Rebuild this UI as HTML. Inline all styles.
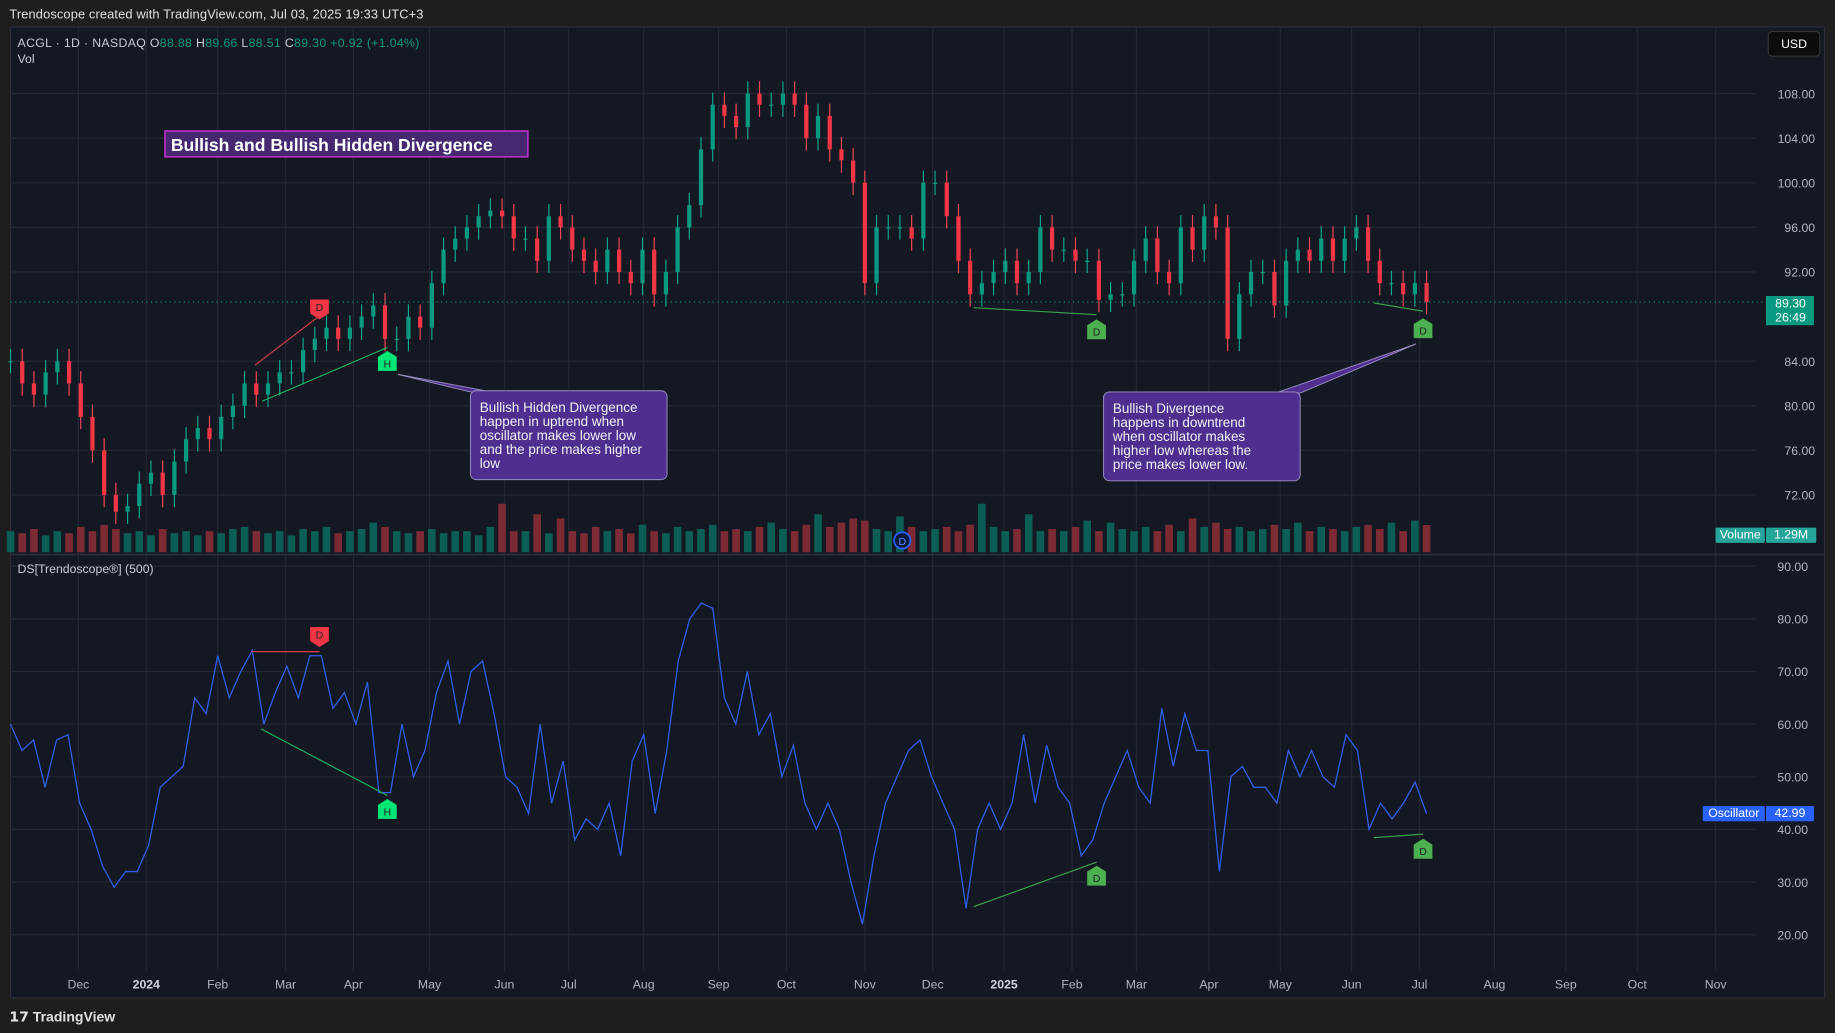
<!DOCTYPE html>
<html><head><meta charset="utf-8">
<style>
html,body{margin:0;padding:0;background:#1e1e1e;}
svg{display:block;font-family:"Liberation Sans",sans-serif;}
</style></head>
<body>
<svg id="chart" width="1835" height="1033" viewBox="0 0 1568 883" preserveAspectRatio="none" xmlns="http://www.w3.org/2000/svg">
<rect x="0" y="0" width="1568" height="883" fill="#1e1e1e"/>
<text x="8" y="16" fill="#e0e0e0" font-size="11" letter-spacing="0.1">Trendoscope created with TradingView.com, Jul 03, 2025 19:33 UTC+3</text>
<rect x="9" y="23" width="1550" height="830" fill="#141823" stroke="#2a2e39"/>
<g id="grid"></g>
<line x1="9" y1="474" x2="1559" y2="474" stroke="#2a2e39" stroke-width="1.5"/>
<g id="vol"></g>
<g id="candles"></g>
<g id="osc"></g>
<g id="axes"></g>
<g id="ann"></g>
<text x="15" y="40" font-size="10.5" fill="#c8ccd6" letter-spacing="0.3">ACGL · 1D · NASDAQ  O<tspan fill="#089981">88.88</tspan>  H<tspan fill="#089981">89.66</tspan>  L<tspan fill="#089981">88.51</tspan>  C<tspan fill="#089981">89.30</tspan>  <tspan fill="#089981">+0.92 (+1.04%)</tspan></text>
<text x="15" y="54" font-size="10.5" fill="#c8ccd6">Vol</text>
<text x="15" y="490" font-size="10.5" fill="#c8ccd6">DS[Trendoscope®] (500)</text>
<rect x="1511" y="27" width="44" height="21" rx="3" fill="#0c0c0c" stroke="#333"/>
<text x="1533" y="41" font-size="10.5" fill="#fff" text-anchor="middle">USD</text>
<text x="8" y="873" font-size="12" fill="#e0e0e0" font-weight="bold">𝟭𝟳 TradingView</text>
</svg>
<script>
const months=["Dec","2024","Feb","Mar","Apr","May","Jun","Jul","Aug","Sep","Oct","Nov","Dec","2025","Feb","Mar","Apr","May","Jun","Jul","Aug","Sep","Oct","Nov"];
const monthX=[67,125,186,244,302,367,431,486,550,614,672,739,797,858,916,971,1033,1094,1155,1213,1277,1338,1399,1466];
const priceTicks=[108,104,100,96,92,84,80,76,72];
const oscTicks=[90,80,70,60,50,40,30,20];
const closes=[84,82,81,83,84,82,79,76,72,70.5,71,73,74,72,75,77,78,77,79,80,82,81,82,83,83,85,86,87,86,87,88,89,86,86,88,87,91,94,95,96,97,97.5,97,95,95,93,97,96,94,93,92,94,92,91,94,90,92,96,98,103,107,106,105,108,107,107,108,107,104,106,103,102,100,91,96,96,96,95,100,100,97,93,90,91,92,93,91,92,96,94,94,93,93,89.5,90,90,93,95,92,91,96,94,97,96,86,90,92,92,89,93,94,93,95,93,95,96,93,91,91,90,91,89.3];
const volumes=[1.0,0.9,1.1,0.8,1.0,0.9,1.2,1.0,1.3,1.1,0.9,1.0,0.8,1.1,0.9,1.0,0.8,1.0,0.9,1.1,1.2,1.0,0.9,1.0,0.8,1.1,1.0,1.2,0.9,1.0,1.1,1.4,1.2,1.0,0.9,1.0,1.1,0.9,1.0,1.0,0.8,1.2,2.3,1.0,1.0,1.8,0.9,1.6,1.0,0.9,1.2,1.0,1.1,0.9,1.3,1.0,0.9,1.2,1.0,1.1,1.3,1.0,1.1,1.0,1.2,1.4,1.1,1.0,1.3,1.8,1.2,1.4,1.6,1.5,1.1,1.0,1.7,1.2,1.0,1.1,1.2,1.0,1.3,2.3,1.2,1.0,1.1,1.8,1.0,1.1,1.0,1.2,1.5,1.0,1.4,1.1,1.0,1.2,1.0,1.3,1.0,1.6,1.2,1.4,1.1,1.2,1.0,1.1,1.3,1.1,1.4,1.0,1.2,1.1,1.0,1.2,1.3,1.1,1.4,1.0,1.5,1.29];
const osc=[60,55,57,48,57,58,45,40,33,29,32,32,37,48,50,52,65,62,73,65,70,74,60,66,71,65,73,73,63,66,60,68,47,47,60,50,55,66,72,60,70,72,62,50,48,43,60,45,53,38,42,40,45,35,53,58,43,55,72,80,83,82,65,60,70,58,62,50,56,45,40,45,40,30,22,35,45,50,55,57,50,45,40,25,40,45,40,45,58,45,56,48,45,35,38,45,50,55,48,45,63,52,62,55,55,32,50,52,48,48,45,55,50,55,50,48,58,55,40,45,42,45,49,43];

const NS="http://www.w3.org/2000/svg";
function mk(parent,tag,attrs,text){const e=document.createElementNS(NS,tag);for(const k in attrs)e.setAttribute(k,attrs[k]);if(text!==undefined)e.textContent=text;parent.appendChild(e);return e;}
const yP=p=>80+(108-p)*9.53;
const yO=v=>484+(90-v)*4.5;
const xI=(i,n)=>9+i*(1210/(n-1));
const yV=v=>472-v*18;

const grid=document.getElementById('grid'),axes=document.getElementById('axes');
priceTicks.forEach(p=>{
 const l=mk(grid,'line',{x1:9,x2:1500,y1:yP(p),y2:yP(p),stroke:'#232734'});
 
 
 const t=mk(axes,'text',{x:1551,y:yP(p)+4,'font-size':10.5,fill:'#b2b5be','text-anchor':'end'},p.toFixed(2));
 
 
});
oscTicks.forEach(v=>{
 const l=mk(grid,'line',{x1:9,x2:1500,y1:yO(v),y2:yO(v),stroke:'#232734'});
 
 
 const t=mk(axes,'text',{x:1545,y:yO(v)+4,'font-size':10.5,fill:'#b2b5be','text-anchor':'end'},v.toFixed(2));
 
 
});
months.forEach((m,i)=>{
 const l=mk(grid,'line',{x1:monthX[i],x2:monthX[i],y1:23,y2:830,stroke:'#232734'});
 
 
 const t=mk(axes,'text',{x:monthX[i],y:845,'font-size':10.5,fill:(m==='2024'||m==='2025')?'#d1d4dc':'#b2b5be','font-weight':(m==='2024'||m==='2025')?'bold':'normal','text-anchor':'middle'},m);
 
 
});

const vg=document.getElementById('vol'),cg=document.getElementById('candles');
const n=closes.length;
closes.forEach((c,i)=>{
 const o=i>0?closes[i-1]:c;
 const x=xI(i,n),up=c>=o,col=up?'#089981':'#f23645';
 const hi=Math.max(o,c)+1.1,lo=Math.min(o,c)-1.1;
 const vb=mk(vg,'rect',{x:x-3.25,y:yV(volumes[i]),width:6.5,height:472-yV(volumes[i]),fill:up?'#0b5e55':'#7c2a33'});
 
 
 const w=mk(cg,'line',{x1:x,x2:x,y1:yP(hi),y2:yP(lo),stroke:up?'#0aa88d':'#f54555','stroke-width':1});
 
 
 const b=mk(cg,'rect',{x:x-1.8,y:yP(Math.max(o,c)),width:3.6,height:Math.max(1,Math.abs(yP(o)-yP(c))),fill:col});
 
 
});
const og=document.getElementById('osc');
const pl=mk(og,'polyline',{points:osc.map((v,i)=>xI(i,osc.length)+','+yO(v)).join(' '),fill:'none',stroke:'#2f5ee8','stroke-width':1.1});



const ann=document.getElementById('ann');
const cur=mk(ann,'line',{x1:9,x2:1508,y1:yP(89.3),y2:yP(89.3),stroke:'#089981','stroke-dasharray':'1,3'});


function seg(x1,y1,x2,y2,c,name){const l=mk(ann,'line',{x1,y1,x2,y2,stroke:c,'stroke-width':1});}
seg(218,312,273,270,'#c33a48','price-divergence-line');
seg(224,343,331,297,'#20b060','price-hidden-divergence-line');
seg(832,263,937,269,'#3aa34a','price-divergence-line');
seg(1174,259,1216,266,'#3aa34a','price-divergence-line');
seg(215,557,273,557,'#e23a4a','osc-divergence-line');
seg(223,623,331,680,'#20b060','osc-hidden-divergence-line');
seg(832,775,937,737,'#3aa34a','osc-divergence-line');
seg(1174,716,1216,713,'#3aa34a','osc-divergence-line');
function tag(x,y,letter,col,down,name){
 const g=mk(ann,'g',{});
 
 
 const d=down?`M${x-8},${y-8} h16 v12 l-8,5 l-8,-5 z`:`M${x-8},${y+8} h16 v-12 l-8,-5 l-8,5 z`;
 mk(g,'path',{d,fill:col});
 mk(g,'text',{x,y:down?y+2:y+5,'font-size':9,fill:'#222','text-anchor':'middle'},letter);
}
tag(273,264,'D','#f23645',true,'price-divergence-tag');
tag(331,309,'H','#00e676',false,'price-hidden-tag');
tag(937,282,'D','#4caf50',false,'price-divergence-tag');
tag(1216,281,'D','#4caf50',false,'price-divergence-tag');
tag(273,544,'D','#f23645',true,'osc-divergence-tag');
tag(331,692,'H','#00e676',false,'osc-hidden-tag');
tag(937,749,'D','#4caf50',false,'osc-divergence-tag');
tag(1216,726,'D','#4caf50',false,'osc-divergence-tag');
function callout(x,y,w,h,px,py,bx1,bx2,lines,name){
 const g=mk(ann,'g',{});
 
 
 mk(g,'path',{d:`M${bx1},${y+1} L${px},${py} L${bx2},${y+1} Z`,fill:'#4e2e8e',stroke:'#9a8fc0','stroke-width':0.8});
 mk(g,'rect',{x,y,width:w,height:h,rx:5,fill:'#4e2e8e',stroke:'#9a8fc0','stroke-width':0.8});
 lines.forEach((t,i)=>mk(g,'text',{x:x+8,y:y+18+i*12,'font-size':11.5,fill:'#f0f0f0'},t));
}
callout(402,334,168,76,340,320,402,420,["Bullish Hidden Divergence","happen in uptrend when","oscillator makes lower low","and the price makes higher","low"],'hidden-divergence-callout');
callout(943,335,168,76,1210,294,1090,1111,["Bullish Divergence","happens in downtrend","when oscillator makes","higher low whereas the","price makes lower low."],'divergence-callout');
const tb=mk(ann,'g',{});


mk(tb,'rect',{x:141,y:112,width:310,height:22,fill:'#45286f',stroke:'#b030c0','stroke-width':1.5});
mk(tb,'text',{x:146,y:129,'font-size':15,'font-weight':'bold',fill:'#fff'},'Bullish and Bullish Hidden Divergence');
function badge(x,y,w,h,col,txt,name){const g=mk(ann,'g',{});mk(g,'rect',{x,y,width:w,height:h,fill:col,rx:1});mk(g,'text',{x:x+w/2,y:y+h-3.5,'font-size':10.5,fill:'#fff','text-anchor':'middle'},txt);}
badge(1466,451,42,13,'#26a69a','Volume','volume-label');
badge(1509,451,43,13,'#26a69a','1.29M','volume-value');
badge(1455,689,53,13,'#2962ff','Oscillator','oscillator-label');
badge(1509,689,41,13,'#2962ff','42.99','oscillator-value');
const pg=mk(ann,'g',{});


mk(pg,'rect',{x:1509,y:253,width:41,height:25,fill:'#089981'});
mk(pg,'text',{x:1530,y:263,'font-size':10.5,fill:'#fff','text-anchor':'middle'},'89.30');
mk(pg,'text',{x:1530,y:275,'font-size':10.5,fill:'#fff','text-anchor':'middle'},'26:49');
const dc=mk(ann,'g',{});


mk(dc,'circle',{cx:771,cy:462,r:7,fill:'#0d1a40',stroke:'#2962ff','stroke-width':1.5});
mk(dc,'text',{x:771,y:466,'font-size':9,fill:'#5b8cff','text-anchor':'middle'},'D');
</script>
</body></html>
